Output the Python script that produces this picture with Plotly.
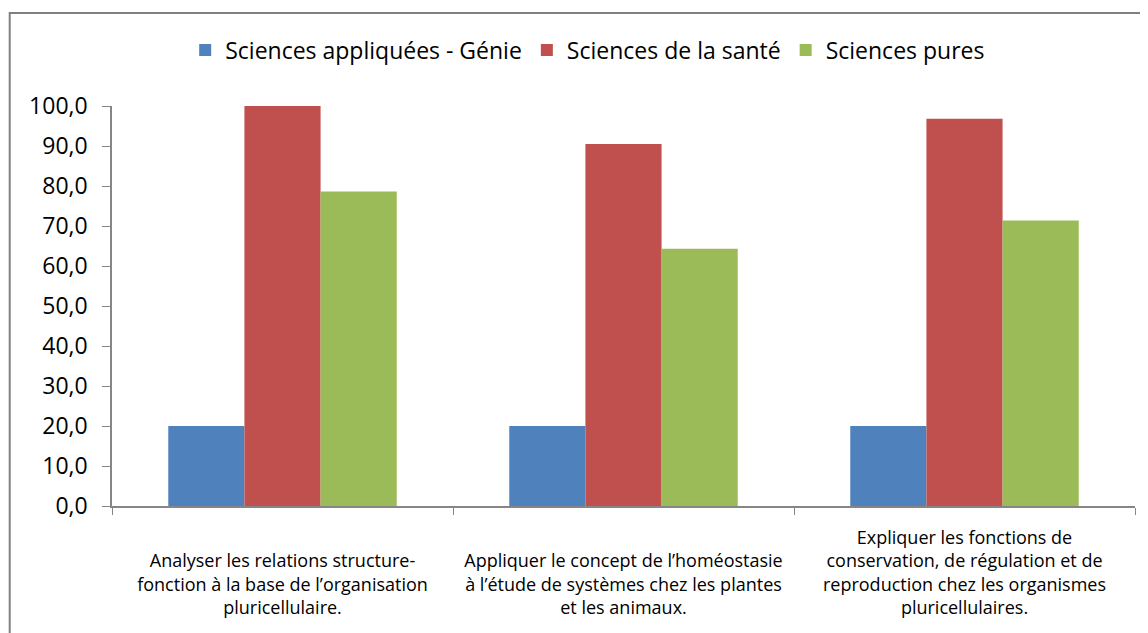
import plotly.graph_objects as go

categories = [
    "Analyser les relations structure-<br>fonction à la base de l’organisation<br>pluricellulaire.",
    "Appliquer le concept de l’homéostasie<br>à l’étude de systèmes chez les plantes<br>et les animaux.",
    "Expliquer les fonctions de<br>conservation, de régulation et de<br>reproduction chez les organismes<br>pluricellulaires.",
]
series_names = ["Sciences appliquées - Génie", "Sciences de la santé", "Sciences pures"]
genie = [20.0, 20.0, 20.0]
sante = [100.0, 90.5, 96.8]
pures = [78.6, 64.3, 71.4]
colors = ["#4F81BD", "#C0504D", "#9BBB59"]

# bottom-align multi-line category labels (as in the original)
nlines = [c.count("<br>") + 1 for c in categories]
maxl = max(nlines)
ticktext = [" <br>" * (maxl - n) + c for c, n in zip(categories, nlines)]

xpos = list(range(len(categories)))
fig = go.Figure()
for name, vals, c in zip(series_names, [genie, sante, pures], colors):
    fig.add_trace(go.Bar(x=xpos, y=vals, name=name, marker_color=c, marker_line_width=0))

# invisible trace to activate boundary tick axis
fig.add_trace(go.Scatter(x=[-0.5, 2.5], y=[0, 0], xaxis="x2", mode="lines",
                         line=dict(width=0), showlegend=False, hoverinfo="skip"))

fig.update_layout(
    width=1148, height=633,
    barmode="group", bargap=0.33, bargroupgap=0,
    separators=", ",
    plot_bgcolor="white", paper_bgcolor="rgba(0,0,0,0)",
    font=dict(family="Open Sans, sans-serif", color="black"),
    margin=dict(l=104, r=21, t=98, b=135, autoexpand=False),
    legend=dict(orientation="h", x=0.465, xanchor="center", y=1.14, yref="paper",
                yanchor="middle", font=dict(size=23), traceorder="normal",
                bgcolor="rgba(0,0,0,0)"),
    xaxis=dict(range=[-0.5, 2.5], tickvals=xpos, ticktext=ticktext, ticks="",
               showline=False, tickfont=dict(size=18), showgrid=False, zeroline=False,
               automargin=False, ticklabelstandoff=19),
    xaxis2=dict(overlaying="x", range=[-0.5, 2.5], tickvals=[-0.5, 0.5, 1.5, 2.5],
                showticklabels=False, ticks="outside", ticklen=7, tickcolor="#868686",
                showline=True, linecolor="#868686", linewidth=1.5, side="bottom",
                showgrid=False, zeroline=False),
    yaxis=dict(range=[0, 100], dtick=10, tickformat=".1f", ticks="outside", ticklen=8,
               tickcolor="#868686", showline=True, linecolor="#868686", linewidth=1.5,
               showgrid=False, zeroline=False, tickfont=dict(size=23), automargin=False,
               ticklabelstandoff=10),
)
fig.add_shape(type="rect", xref="paper", yref="paper", x0=-0.1, x1=1.05,
              y0=-0.35, y1=1.2325, line=dict(color="#808080", width=2), layer="below")
fig.write_html("out.html")
